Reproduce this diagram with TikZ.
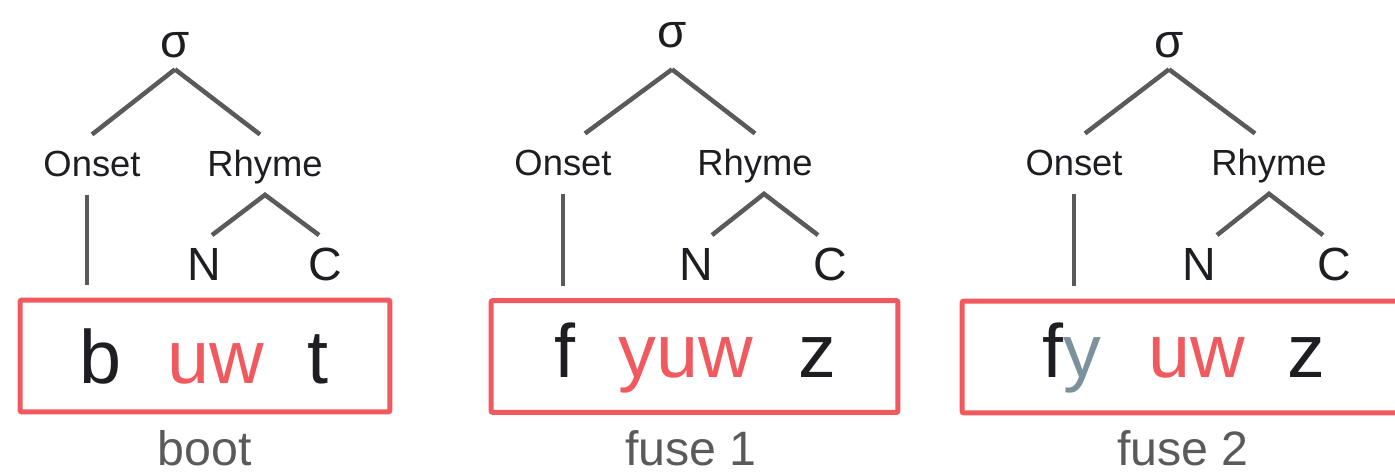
\documentclass[tikz,border=0pt]{standalone}
\usepackage{fontspec}
\setmainfont{Liberation Sans}
\definecolor{boxred}{HTML}{F05A5E}
\definecolor{linegrey}{HTML}{5A5A5A}
\definecolor{inkblack}{HTML}{1E1E22}
\definecolor{glidegrey}{HTML}{7B929E}
\tikzset{
  sig/.style={font=\fontsize{27}{27}\selectfont, text=inkblack, anchor=base, inner xsep=0pt, inner ysep=0.24cm, text depth=0pt},
  lvl/.style={font=\fontsize{20.7}{21}\selectfont, text=inkblack, anchor=base, inner xsep=0pt, inner ysep=0.3cm, text height=14.9pt, text depth=2pt},
  leaf/.style={font=\fontsize{26.5}{27}\selectfont, text=inkblack, anchor=base, inner xsep=0pt, inner ysep=0.22cm, text height=19.1pt, text depth=0pt},
  seg/.style={font=\fontsize{43}{43}\selectfont, text=inkblack, anchor=base, inner sep=0pt},
  wordlabel/.style={font=\fontsize{27.5}{28}\selectfont, text=linegrey, anchor=base, inner sep=0pt},
  wordbox/.style={draw=boxred, line width=0.1cm, rounded corners=0.04cm, inner sep=0pt, minimum height=2.24cm},
  branch/.style={draw=linegrey, line width=0.09cm},
  stem/.style={branch, shorten >=0.25cm}
}
\begin{document}
\begin{tikzpicture}[x=0.02cm, y=-0.02cm]
  \useasboundingbox (0,0) rectangle (1395,474);
  \clip (0,0) rectangle (1395,474);

  \node[sig] (sig1) at (175,57) {σ};
  \node[lvl] (on1) at (92,176) {Onset};
  \node[lvl] (rh1) at (265,176) {Rhyme};
  \node[leaf] (n1) at (204,280) {N};
  \node[leaf] (c1) at (325,280) {C};
  \node[wordbox, minimum width=7.4cm] (box1) at (205,356) {};
  \node[seg] (b1) at (101,383) {b};
  \node[seg, text=boxred] (v1) at (216,383) {uw};
  \node[seg] (t1) at (318,383) {t};
  \node[wordlabel] (w1) at (205,465) {boot};
  \draw[branch] (sig1.south) -- (on1.north);
  \draw[branch] (sig1.south) -- ([xshift=-0.1cm]rh1.north);
  \draw[branch] ([xshift=0.16cm]n1.north) -- (rh1.south) -- ([xshift=-0.12cm]c1.north);
  \draw[stem] ([xshift=-0.1cm]on1.south) -- ([xshift=-0.1cm]on1.south |- box1.north);

  \node[sig] (sig2) at (672,47) {σ};
  \node[lvl] (on2) at (563,175) {Onset};
  \node[lvl] (rh2) at (755,175) {Rhyme};
  \node[leaf] (n2) at (696,280) {N};
  \node[leaf] (c2) at (830,280) {C};
  \node[wordbox, minimum width=8.14cm] (box2) at (694.5,356.5) {};
  \node[seg] (f2) at (565,377) {f};
  \node[seg, text=boxred] (v2) at (686,377) {yuw};
  \node[seg] (z2) at (817,377) {z};
  \node[wordlabel] (w2) at (691,465) {fuse 1};
  \draw[branch] ([yshift=-0.2cm]sig2.south) -- ([xshift=0.44cm]on2.north);
  \draw[branch] ([yshift=-0.2cm]sig2.south) -- (rh2.north);
  \draw[branch] ([xshift=0.32cm]n2.north) -- ([xshift=0.18cm]rh2.south) -- ([xshift=-0.24cm]c2.north);
  \draw[stem] (on2.south) -- (on2.south |- box2.north);

  \node[sig] (sig3) at (1169,57) {σ};
  \node[lvl] (on3) at (1074,175) {Onset};
  \node[lvl] (rh3) at (1269,175) {Rhyme};
  \node[leaf] (n3) at (1199,280) {N};
  \node[leaf] (c3) at (1334,280) {C};
  \node[wordbox, minimum width=8.84cm] (box3) at (1183,357) {};
  \node[seg] (f3) at (1072,377) {f\textcolor{glidegrey}{y}};
  \node[seg, text=boxred] (v3) at (1197,377) {uw};
  \node[seg] (z3) at (1306,377) {z};
  \node[wordlabel] (w3) at (1183,465) {fuse 2};
  \draw[branch] (sig3.south) -- ([xshift=0.22cm]on3.north);
  \draw[branch] (sig3.south) -- ([xshift=-0.28cm]rh3.north);
  \draw[branch] ([xshift=0.36cm]n3.north) -- (rh3.south) -- ([xshift=-0.22cm]c3.north);
  \draw[stem] (on3.south) -- (on3.south |- box3.north);
\end{tikzpicture}
\end{document}
